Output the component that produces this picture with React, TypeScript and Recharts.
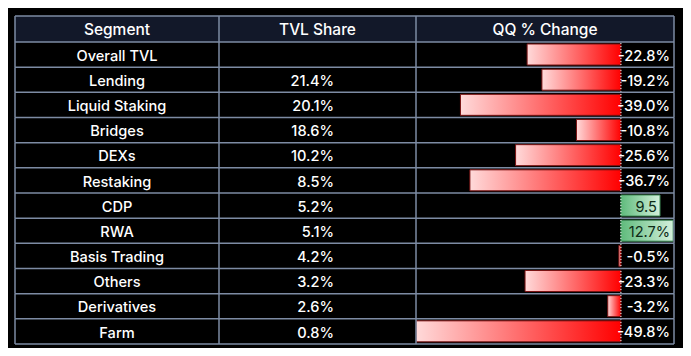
import React from 'react';
import { BarChart, Bar, XAxis, YAxis, Cell, ReferenceLine, LabelList } from 'recharts';

const segments = [
  'Overall TVL', 'Lending', 'Liquid Staking', 'Bridges', 'DEXs', 'Restaking',
  'CDP', 'RWA', 'Basis Trading', 'Others', 'Derivatives', 'Farm',
];
const tvlShare = ['', '21.4%', '20.1%', '18.6%', '10.2%', '8.5%', '5.2%', '5.1%', '4.2%', '3.2%', '2.6%', '0.8%'];
const qqChange = [-22.8, -19.2, -39.0, -10.8, -25.6, -36.7, 9.5, 12.7, -0.5, -23.3, -3.2, -49.8];
const changeLabels = ['-22.8%', '-19.2%', '-39.0%', '-10.8%', '-25.6%', '-36.7%', '9.5', '12.7%', '-0.5%', '-23.3%', '-3.2%', '-49.8%'];
const headers = ['Segment', 'TVL Share', 'QQ % Change'];

const data = segments.map((name, i) => ({
  name,
  share: tvlShare[i],
  change: qqChange[i],
  label: changeLabels[i],
}));

const FONT = 'Inter, "Noto Sans", sans-serif';
const GRID = '#7d8ba3';
const TABLE_LEFT = 15;
const COL1 = 219;
const COL2 = 416;
const TABLE_RIGHT = 674;
const HEADER_H = 26;

function RowTick(props: any) {
  const { y, payload, index } = props;
  const half = payload.offset ?? 12.5;
  const top = y - half;
  const bottom = y + half;
  const row = data[index] ?? data.find((d) => d.name === payload.value);
  return (
    <g>
      {index === 0 && (
        <g>
          <rect x={TABLE_LEFT} y={top - HEADER_H} width={TABLE_RIGHT - TABLE_LEFT} height={HEADER_H} fill="#121829" />
          <line x1={TABLE_LEFT} x2={TABLE_RIGHT} y1={top - HEADER_H} y2={top - HEADER_H} stroke={GRID} strokeWidth={1.5} />
          <line x1={TABLE_LEFT} x2={TABLE_RIGHT} y1={top} y2={top} stroke={GRID} strokeWidth={1.5} />
          {[TABLE_LEFT, COL1, COL2, TABLE_RIGHT].map((x) => (
            <line key={x} x1={x} x2={x} y1={top - HEADER_H} y2={top} stroke={GRID} strokeWidth={1.5} />
          ))}
          <text x={(TABLE_LEFT + COL1) / 2} y={top - HEADER_H / 2} dy="0.38em" textAnchor="middle" fill="#fff" fontSize={15.5} fontWeight={500} fontFamily={FONT}>{headers[0]}</text>
          <text x={(COL1 + COL2) / 2} y={top - HEADER_H / 2} dy="0.38em" textAnchor="middle" fill="#fff" fontSize={15.5} fontWeight={500} fontFamily={FONT}>{headers[1]}</text>
          <text x={(COL2 + TABLE_RIGHT) / 2} y={top - HEADER_H / 2} dy="0.38em" textAnchor="middle" fill="#fff" fontSize={15.5} fontWeight={500} fontFamily={FONT}>{headers[2]}</text>
        </g>
      )}
      <line x1={TABLE_LEFT} x2={TABLE_RIGHT} y1={bottom} y2={bottom} stroke={GRID} strokeWidth={1.5} />
      {[TABLE_LEFT, COL1, COL2, TABLE_RIGHT].map((x) => (
        <line key={x} x1={x} x2={x} y1={top} y2={bottom} stroke={GRID} strokeWidth={1.5} />
      ))}
      <text x={(TABLE_LEFT + COL1) / 2} y={y} dy="0.42em" textAnchor="middle" fill="#fff" fontSize={14.6} fontWeight={500} fontFamily={FONT}>{payload.value}</text>
      <text x={334} y={y} dy="0.42em" textAnchor="end" fill="#fff" fontSize={14.6} fontWeight={500} fontFamily={FONT}>{row?.share}</text>
    </g>
  );
}

function ChangeLabel(props: any) {
  const { x, y, width, height, index } = props;
  const row = data[index];
  if (!row) return null;
  const cy = y + height / 2;
  if (row.change >= 0) {
    return (
      <text x={x + width - 3} y={cy} dy="0.42em" textAnchor="end" fill="#0d2a16" fontSize={14.6} fontFamily={FONT}>{row.label}</text>
    );
  }
  return (
    <text x={TABLE_RIGHT - 4} y={cy} dy="0.42em" textAnchor="end" fill="#fff" fontSize={14.6} fontWeight={500} fontFamily={FONT}>{row.label}</text>
  );
}

export default function App() {
  return (
    <div style={{ width: 691, height: 356, background: '#000', margin: -8 }}>
      <BarChart
        width={691}
        height={356}
        data={data}
        layout="vertical"
        margin={{ top: 42, right: 17, bottom: 12, left: TABLE_LEFT }}
        barCategoryGap={2}
      >
        <defs>
          <linearGradient id="redGrad" x1="0" y1="0" x2="1" y2="0">
            <stop offset="0%" stopColor="#ffdada" />
            <stop offset="100%" stopColor="#ff0000" />
          </linearGradient>
          <linearGradient id="greenGrad" x1="0" y1="0" x2="1" y2="0">
            <stop offset="0%" stopColor="#5fbb7c" />
            <stop offset="100%" stopColor="#d4f0dc" />
          </linearGradient>
        </defs>
        <XAxis type="number" dataKey="change" domain={[-49.8, 12.9]} hide allowDataOverflow />
        <YAxis
          type="category"
          dataKey="name"
          width={COL2 - TABLE_LEFT}
          axisLine={false}
          tickLine={false}
          tick={<RowTick />}
          interval={0}
        />
        <Bar dataKey="change" isAnimationActive={false}>
          {data.map((d, i) => (
            <Cell
              key={`cell-${i}`}
              fill={d.change < 0 ? 'url(#redGrad)' : 'url(#greenGrad)'}
              stroke={d.change < 0 ? '#7a1212' : '#3c8a55'}
              strokeWidth={1}
            />
          ))}
          <LabelList dataKey="label" content={<ChangeLabel />} />
        </Bar>
        <ReferenceLine x={0} stroke="#ffffff" strokeDasharray="1 2" strokeWidth={1} />
      </BarChart>
    </div>
  );
}
